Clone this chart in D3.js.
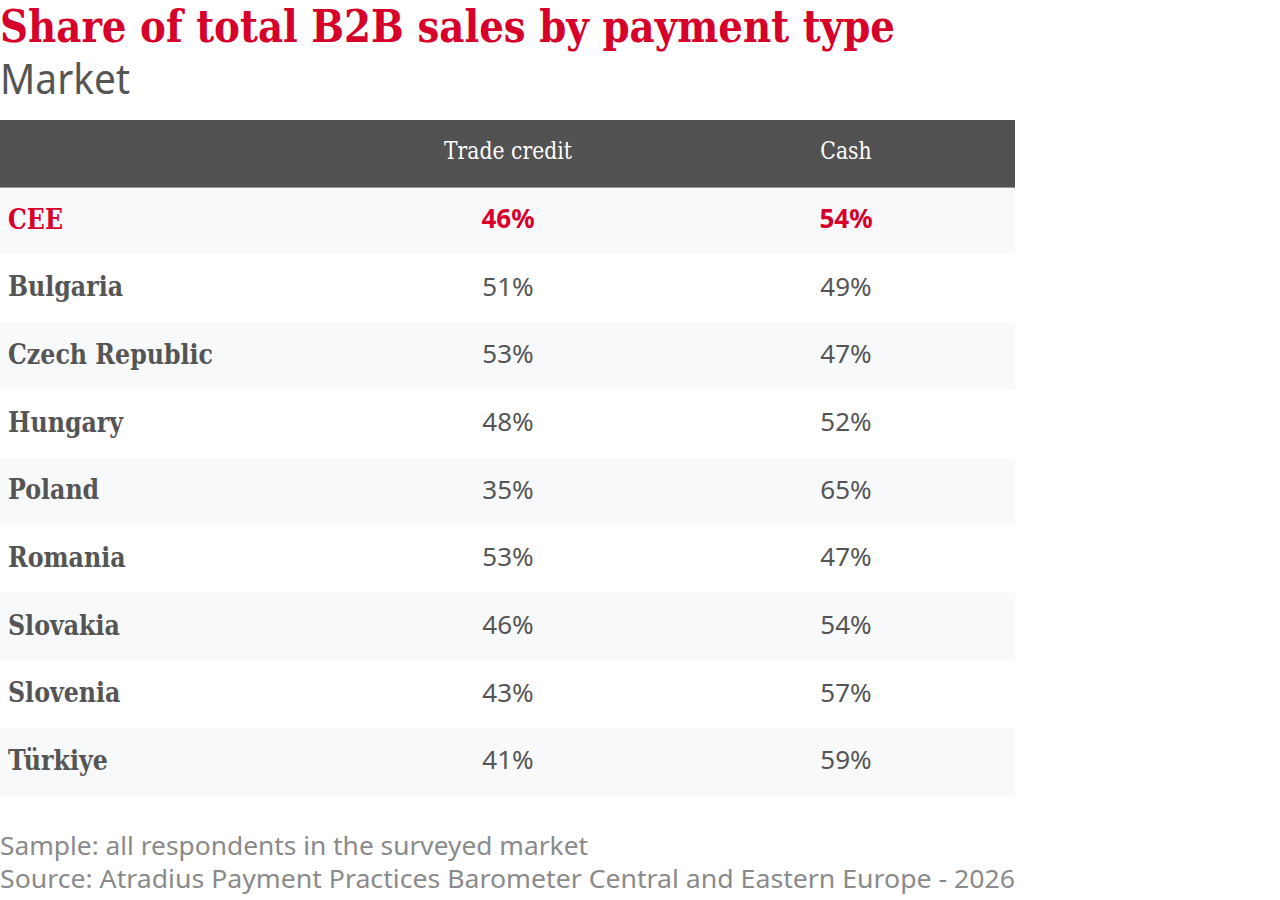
<!DOCTYPE html>
<html>
<head>
<meta charset="utf-8">
<script src="https://cdn.jsdelivr.net/npm/d3@7"></script>
<style>
  body { margin: 0; background: #fff; }
  svg { display: block; }
</style>
</head>
<body>
<div id="chart"></div>
<script>
// table data
const markets = ['CEE', 'Bulgaria', 'Czech Republic', 'Hungary', 'Poland', 'Romania', 'Slovakia', 'Slovenia', 'Türkiye'];
const columns = ['Trade credit', 'Cash'];
const tradeCredit = [46, 51, 53, 48, 35, 53, 46, 43, 41];
const cash = [54, 49, 47, 52, 65, 47, 54, 57, 59];
const highlight = ['CEE'];

const titleText = 'Share of total B2B sales by payment type';
const subtitleText = 'Market';
const notes = [
	'Sample: all respondents in the surveyed market',
	'Source: Atradius Payment Practices Barometer Central and Eastern Europe - 2026'
];

const W = 1280, H = 900;
const TABLE = { x0: 0, x1: 1015, headTop: 120, headBottom: 187, bottom: 796 };
const RED = '#d6002a', DARK = '#525252', TEXT = '#555555', NOTE = '#8a8a8a';
const SERIF = '"DejaVu Serif", "Liberation Serif", serif';
const SANS = '"Noto Sans", "Open Sans", sans-serif';

const rows = markets.map((m, i) => ({ name: m, values: [tradeCredit[i], cash[i]] }));

const svg = d3.select('#chart').append('svg')
	.attr('width', W).attr('height', H);

const y = d3.scaleBand()
	.domain(markets)
	.range([TABLE.headBottom, TABLE.bottom]);

const x = d3.scaleOrdinal()
	.domain(columns)
	.range([508, 846]);

// squeeze a text horizontally by a factor, keeps it a real text node
function squeeze(sel, k) {
	sel.each(function() {
		const w = this.getComputedTextLength();
		d3.select(this).attr('textLength', w * k).attr('lengthAdjust', 'spacingAndGlyphs');
	});
}
// factor that brings one node of a selection to a given width
const fitK = (node, width) => width / node.getComputedTextLength();

// title + subtitle
const title = svg.append('text')
	.attr('x', 0).attr('y', 42)
	.attr('font-family', SERIF).attr('font-weight', 'bold')
	.attr('font-size', 44).attr('fill', RED)
	.text(titleText);
squeeze(title, fitK(title.node(), 895));

const sub = svg.append('text')
	.attr('x', 0).attr('y', 94)
	.attr('font-family', SANS).attr('font-size', 42).attr('fill', TEXT)
	.text(subtitleText);
squeeze(sub, fitK(sub.node(), 130));

// header band
svg.append('rect')
	.attr('x', TABLE.x0).attr('y', TABLE.headTop)
	.attr('width', TABLE.x1 - TABLE.x0).attr('height', TABLE.headBottom - TABLE.headTop)
	.attr('fill', DARK);

const head = svg.append('g').selectAll('text')
	.data(columns)
	.enter().append('text')
	.attr('x', d => x(d))
	.attr('y', 151)
	.attr('dy', '0.35em')
	.attr('text-anchor', 'middle')
	.attr('font-family', SERIF).attr('font-size', 24).attr('fill', '#fff')
	.text(d => d);
squeeze(head, fitK(head.nodes()[0], 128));

// striped rows
svg.append('g').selectAll('rect')
	.data(rows)
	.enter().append('rect')
	.attr('x', TABLE.x0).attr('y', d => y(d.name))
	.attr('width', TABLE.x1 - TABLE.x0).attr('height', y.bandwidth())
	.attr('fill', (d, i) => i % 2 === 0 ? '#f8f9fb' : '#ffffff');

svg.append('line')
	.attr('x1', TABLE.x0).attr('x2', TABLE.x1)
	.attr('y1', TABLE.headBottom + 0.5).attr('y2', TABLE.headBottom + 0.5)
	.attr('stroke', '#9a9a9a').attr('stroke-width', 1);

const row = svg.append('g').selectAll('g')
	.data(rows)
	.enter().append('g')
	.attr('transform', d => `translate(0,${y(d.name) + y.bandwidth() / 2 - 2})`);

const isHi = d => highlight.includes(d.name);

const labels = row.append('text')
	.attr('x', 8).attr('dy', '0.35em')
	.attr('font-family', SERIF).attr('font-weight', 'bold')
	.attr('font-size', 28)
	.attr('fill', d => isHi(d) ? RED : TEXT)
	.text(d => d.name);
squeeze(labels, fitK(labels.nodes()[markets.indexOf('Czech Republic')], 205));

row.selectAll('.val')
	.data(d => d.values.map((v, j) => ({ v, col: columns[j], hi: isHi(d) })))
	.enter().append('text')
	.attr('class', 'val')
	.attr('x', d => x(d.col)).attr('dy', '0.35em')
	.attr('text-anchor', 'middle')
	.attr('font-family', SANS).attr('font-size', 26)
	.attr('font-weight', d => d.hi ? 'bold' : 'normal')
	.attr('fill', d => d.hi ? RED : TEXT)
	.text(d => d3.format('d')(d.v) + '%');

// footnotes
const foot = svg.append('g').selectAll('text')
	.data(notes)
	.enter().append('text')
	.attr('x', 0).attr('y', (d, i) => 855 + i * 33)
	.attr('font-family', SANS).attr('font-size', 26).attr('fill', NOTE)
	.text(d => d);
const footWidths = [588, 1015];
foot.each(function(d, i) {
	squeeze(d3.select(this), fitK(this, footWidths[i]));
});
</script>
</body>
</html>
